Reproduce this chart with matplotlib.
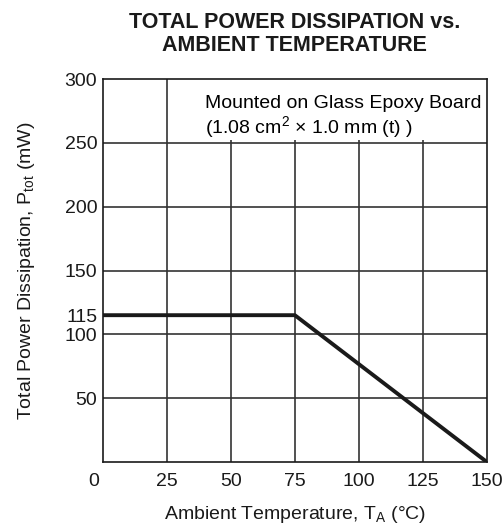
import matplotlib.pyplot as plt
from matplotlib.patches import Rectangle

plt.rcParams['font.family'] = ['Liberation Sans', 'DejaVu Sans']
plt.rcParams['mathtext.fontset'] = 'custom'
plt.rcParams['mathtext.rm'] = 'Liberation Sans'

# derating curve
temp = [0, 75, 150]
power = [115, 115, 0]

xticks = [25, 50, 75, 100, 125, 150]
yticks = [50, 100, 115, 150, 200, 250, 300]
xgrid = [25, 50, 75, 100, 125]
ygrid = [50, 100, 150, 200, 250]

fs = 14

fig = plt.figure(figsize=(5.04, 5.25), dpi=100)
ax = fig.add_axes([0.204, 0.12, 0.762, 0.7295])
ax.set_xlim(0, 150)
ax.set_ylim(0, 300)

gc = '#333333'
for x in xgrid:
    ax.axvline(x, color=gc, lw=1.2, zorder=1)
for y in ygrid:
    ax.axhline(y, color=gc, lw=1.2, zorder=1)

# blank area behind the note
ax.add_patch(Rectangle((32, 252), 118, 48, facecolor='white', edgecolor='none', zorder=2))

ax.plot(temp, power, color='#1a1a1a', lw=2.8, zorder=3, solid_capstyle='butt')

ax.text(40, 281, 'Mounted on Glass Epoxy Board', fontsize=fs, va='center', ha='left', zorder=4)
ax.text(40, 262, r'(1.08 cm$^2$ $\times$ 1.0 mm (t) )', fontsize=fs, va='center', ha='left', zorder=4)

ax.set_xticks(xticks)
ax.set_yticks(yticks)
ax.tick_params(axis='x', length=0, labelsize=fs, pad=8, colors='#1a1a1a')
ax.tick_params(axis='y', length=0, labelsize=fs, pad=4, colors='#1a1a1a')
ax.text(-3.5, -15, '0', fontsize=fs, ha='center', va='center', color='#1a1a1a')

for s in ax.spines.values():
    s.set_color('#1a1a1a')
    s.set_linewidth(1.2)
    s.set_zorder(5)

ax.set_xlabel(r'Ambient Temperature, T$_{\mathregular{A}}$ (°C)', fontsize=fs, labelpad=10, color='#1a1a1a')
ax.set_ylabel(r'Total Power Dissipation, P$_{\mathregular{tot}}$ (mW)', fontsize=fs, labelpad=20, color='#1a1a1a')
ax.set_title('TOTAL POWER DISSIPATION vs.\nAMBIENT TEMPERATURE', fontsize=15.5,
             fontweight='bold', pad=20, linespacing=1.15, color='#1a1a1a')

fig.savefig('out.png', dpi=100)
